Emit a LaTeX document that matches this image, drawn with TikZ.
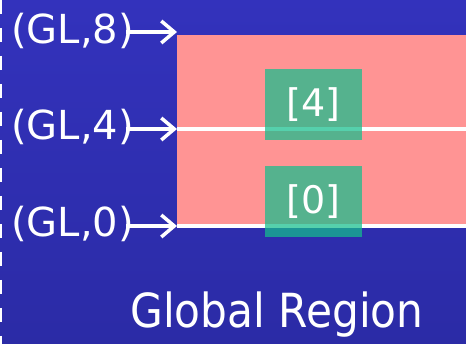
\documentclass[tikz,border=0pt]{standalone}
\usepackage{fontspec}
\setmainfont{DejaVu Sans}
\newfontfamily\titlefont[FakeStretch=0.9]{DejaVu Sans}
\usetikzlibrary{arrows.meta}
\definecolor{bgtop}{RGB}{51,50,188}
\definecolor{bgbot}{RGB}{43,43,166}
\definecolor{regionpink}{RGB}{255,148,148}
\definecolor{tilegreen}{RGB}{20,190,140}
\begin{document}
\begin{tikzpicture}[x=1pt,y=-1pt,
  lbl/.style={text=white, inner sep=0pt, anchor=west,
    font=\fontsize{40}{40}\selectfont},
  ptr/.style={white, line width=3.5pt,
    -{Straight Barb[length=13pt,width=22pt,line width=3.5pt]}},
  level/.style={white, line width=4.5pt},
  tile/.style={fill=tilegreen, fill opacity=0.72, text opacity=1,
    text=white, minimum width=97pt, minimum height=71pt, inner sep=0pt,
    font=\fontsize{38}{38}\selectfont},
  title/.style={text=white, inner sep=0pt, anchor=base,
    font=\titlefont\fontsize{47}{47}\selectfont}]
  % background
  \shade[top color=bgtop, bottom color=bgbot] (0,0) rectangle (466,344);
  \useasboundingbox (0,0) rectangle (466,344);
  % dashed boundary on the left
  \draw[white, line width=2.5pt, dash pattern=on 14pt off 14pt] (1,0) -- (1,344);
  % region
  \fill[regionpink] (177,35) rectangle (466,226);
  % level lines
  \coordinate (e8) at (177,32);
  \coordinate (e4) at (177,129);
  \coordinate (e0) at (177,226);
  \coordinate (r4) at (466,129);
  \coordinate (r0) at (466,226);
  \draw[level] (e4) -- (r4);
  \draw[level] (e0) -- (r0);
  % tiles
  \node[tile] (t4) at (313.5,104.5) {[4]};
  \node[tile] (t0) at (313.5,201.5) {[0]};
  % level labels and pointers
  \node[lbl] (l8) at (11,31) {(GL,8)};
  \node[lbl] (l4) at (11,127) {(GL,4)};
  \node[lbl] (l0) at (11,224) {(GL,0)};
  \coordinate (s8) at (126,32);
  \coordinate (s4) at (126,129);
  \coordinate (s0) at (126,226);
  \draw[ptr] (s8) -- (e8);
  \draw[ptr] (s4) -- (e4);
  \draw[ptr] (s0) -- (e0);
  % caption
  \node[title] (cap) at (277,328) {Global Region};
\end{tikzpicture}
\end{document}
